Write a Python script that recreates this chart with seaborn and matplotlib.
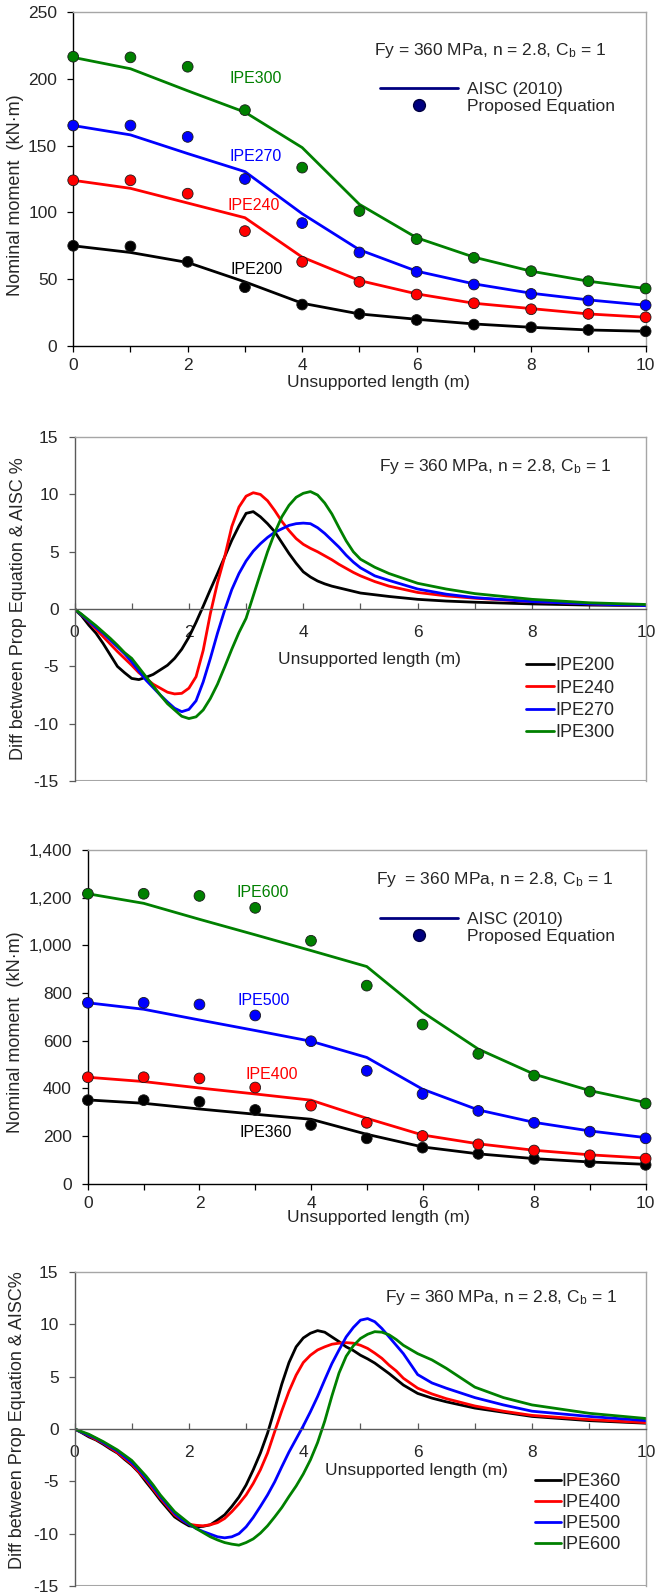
import numpy as np
import pandas as pd
import matplotlib
matplotlib.use("Agg")
import matplotlib.pyplot as plt
from matplotlib.lines import Line2D
from matplotlib.ticker import FuncFormatter, MultipleLocator
import seaborn as sns

# ---------------- data ----------------
L = [0, 1, 2, 3, 4, 5, 6, 7, 8, 9, 10]

# Panel 1 (IPE200-IPE300): AISC lines and proposed points (kN.m)
sec_small = ["IPE200", "IPE240", "IPE270", "IPE300"]
aisc_IPE200 = [75, 70, 62.5, 48, 32, 24, 20, 16.5, 14, 12, 11]
aisc_IPE240 = [124, 118, 107, 96, 66.5, 49, 39, 32, 28, 24, 21.5]
aisc_IPE270 = [165, 158, 144, 130.5, 99, 72, 56, 46.5, 39.5, 34.5, 30.5]
aisc_IPE300 = [216, 207.5, 191, 175, 148.5, 106, 81, 66.5, 56, 48.5, 43]
prop_IPE200 = [75, 74.5, 63, 44, 31, 24, 19.5, 16, 14, 12, 11]
prop_IPE240 = [124, 124, 114, 86, 63, 48, 38.5, 32, 27.5, 24, 21.5]
prop_IPE270 = [165, 165, 156.5, 125, 92, 70, 55.5, 46, 39, 34, 30.5]
prop_IPE300 = [216.5, 216, 209, 176.5, 133.5, 101, 80, 66, 56, 48.5, 43]

# Panel 3 (IPE360-IPE600)
sec_large = ["IPE360", "IPE400", "IPE500", "IPE600"]
aisc_IPE360 = [352, 338, 314, 292, 271, 208, 155, 126, 106, 92, 82]
aisc_IPE400 = [447, 429, 402, 377, 351, 275, 205, 168, 141, 122, 108]
aisc_IPE500 = [759, 732, 687, 643, 598, 530, 397, 310, 258, 222, 194]
aisc_IPE600 = [1216, 1176, 1109, 1044, 978, 911, 720, 565, 460, 391, 341]
prop_IPE360 = [351, 351, 344, 310, 247, 191, 152, 126, 105, 91, 80]
prop_IPE400 = [447, 447, 442, 404, 328, 256, 201, 166, 140, 120, 106]
prop_IPE500 = [759, 759, 752, 706, 598, 474, 377, 306, 256, 219, 191]
prop_IPE600 = [1216, 1216, 1207, 1157, 1019, 831, 668, 545, 454, 387, 337]

# Panel 2: difference (%) vs unsupported length
Ld = [0, 0.125, 0.25, 0.375, 0.5, 0.625, 0.75, 0.875, 1.0, 1.125, 1.25, 1.375,
      1.5, 1.625, 1.75, 1.875, 2.0, 2.125, 2.25, 2.375, 2.5, 2.625, 2.75, 2.875,
      3.0, 3.125, 3.25, 3.375, 3.5, 3.625, 3.75, 3.875, 4.0, 4.125, 4.25, 4.375,
      4.5, 4.625, 4.75, 4.875, 5.0, 5.25, 5.5, 6.0, 6.5, 7.0, 8.0, 9.0, 10.0]
diff_IPE200 = [0, -0.6, -1.4, -2.1, -3.0, -4.0, -5.0, -5.55, -6.05, -6.15, -5.95, -5.7,
               -5.3, -4.9, -4.3, -3.5, -2.45, -1.15, 0.25, 1.7, 3.1, 4.55, 6.0, 7.25,
               8.35, 8.5, 8.05, 7.45, 6.75, 5.8, 4.85, 4.0, 3.25, 2.8, 2.45, 2.2,
               2.0, 1.85, 1.7, 1.55, 1.4, 1.25, 1.1, 0.85, 0.7, 0.6, 0.45, 0.35, 0.3]
diff_IPE240 = [0, -0.5, -1.1, -1.75, -2.4, -3.05, -3.7, -4.3, -4.9, -5.55, -6.05, -6.55,
               -6.9, -7.25, -7.4, -7.35, -6.9, -5.9, -3.6, -0.4, 2.3, 4.55, 7.2, 8.9,
               9.85, 10.15, 10.0, 9.45, 8.6, 7.65, 6.85, 6.15, 5.65, 5.3, 5.0, 4.65,
               4.3, 3.9, 3.55, 3.2, 2.9, 2.4, 2.0, 1.45, 1.15, 0.95, 0.65, 0.45, 0.3]
diff_IPE270 = [0, -0.5, -1.05, -1.6, -2.1, -2.7, -3.3, -3.9, -4.6, -5.4, -6.2, -6.85,
               -7.5, -8.1, -8.65, -8.95, -8.75, -8.0, -6.35, -4.3, -2.1, -0.1, 1.7, 3.1,
               4.2, 5.05, 5.7, 6.25, 6.7, 7.0, 7.3, 7.45, 7.5, 7.45, 7.1, 6.6,
               6.0, 5.4, 4.7, 4.1, 3.6, 2.9, 2.5, 1.75, 1.3, 1.0, 0.65, 0.45, 0.3]
diff_IPE300 = [0, -0.45, -0.95, -1.45, -2.0, -2.55, -3.15, -3.8, -4.3, -5.1, -5.9, -6.7,
               -7.5, -8.25, -8.8, -9.35, -9.55, -9.4, -8.8, -7.8, -6.55, -5.05, -3.5, -2.05,
               -0.8, 1.15, 3.1, 5.0, 6.65, 8.05, 9.05, 9.75, 10.1, 10.25, 9.95, 9.25,
               8.3, 7.1, 5.95, 5.0, 4.35, 3.65, 3.1, 2.25, 1.75, 1.35, 0.85, 0.55, 0.4]

# Panel 4
Ld2 = [0, 0.125, 0.25, 0.375, 0.5, 0.625, 0.75, 0.875, 1.0, 1.125, 1.25, 1.375,
       1.5, 1.625, 1.75, 1.875, 2.0, 2.125, 2.25, 2.375, 2.5, 2.625, 2.75, 2.875,
       3.0, 3.125, 3.25, 3.375, 3.5, 3.625, 3.75, 3.875, 4.0, 4.125, 4.25, 4.375,
       4.5, 4.625, 4.75, 4.875, 5.0, 5.125, 5.25, 5.375, 5.5, 5.625, 5.75, 6.0,
       6.25, 6.5, 7.0, 7.5, 8.0, 9.0, 10.0]
diff_IPE360 = [0, -0.35, -0.75, -1.05, -1.45, -1.9, -2.3, -2.9, -3.45, -4.15, -5.05, -5.9,
               -6.8, -7.6, -8.4, -8.85, -9.25, -9.35, -9.3, -9.15, -8.7, -8.2, -7.4, -6.5,
               -5.35, -3.9, -2.3, -0.4, 1.9, 4.3, 6.35, 7.85, 8.7, 9.15, 9.4, 9.25,
               8.8, 8.35, 7.85, 7.5, 7.05, 6.7, 6.3, 5.8, 5.3, 4.75, 4.2, 3.4,
               2.95, 2.6, 2.0, 1.6, 1.2, 0.8, 0.55]
diff_IPE400 = [0, -0.3, -0.65, -1.0, -1.35, -1.8, -2.25, -2.8, -3.35, -4.1, -4.85, -5.75,
               -6.6, -7.4, -8.2, -8.7, -9.1, -9.2, -9.25, -9.15, -8.95, -8.55, -7.9, -7.15,
               -6.3, -5.2, -3.9, -2.3, -0.25, 1.75, 3.6, 5.15, 6.35, 7.05, 7.55, 7.85,
               8.1, 8.2, 8.25, 8.2, 8.0, 7.7, 7.25, 6.75, 6.1, 5.55, 4.85, 3.9,
               3.35, 2.9, 2.2, 1.7, 1.3, 0.9, 0.6]
diff_IPE500 = [0, -0.3, -0.6, -0.9, -1.3, -1.7, -2.1, -2.65, -3.2, -3.9, -4.7, -5.55,
               -6.45, -7.25, -8.05, -8.65, -9.1, -9.5, -9.8, -10.05, -10.3, -10.4, -10.3, -10.0,
               -9.35, -8.45, -7.4, -6.3, -5.05, -3.6, -2.2, -0.95, 0.3, 1.65, 3.1, 4.7,
               6.25, 7.55, 8.8, 9.7, 10.4, 10.55, 10.25, 9.6, 8.8, 8.0, 7.2, 5.2,
               4.4, 3.9, 3.0, 2.3, 1.7, 1.2, 0.8]
diff_IPE600 = [0, -0.25, -0.5, -0.85, -1.2, -1.6, -2.0, -2.5, -3.0, -3.75, -4.5, -5.35,
               -6.3, -7.1, -7.9, -8.45, -9.0, -9.5, -9.9, -10.3, -10.6, -10.85, -11.0, -11.1,
               -10.85, -10.5, -9.95, -9.25, -8.4, -7.5, -6.45, -5.45, -4.3, -2.95, -1.3, 0.75,
               3.15, 5.35, 6.95, 7.95, 8.65, 9.05, 9.3, 9.25, 9.0, 8.55, 8.0, 7.2,
               6.6, 5.8, 4.0, 3.0, 2.3, 1.5, 1.0]

colors = ["#000000", "#FF0000", "#0000FF", "#008000"]
param_text = "Fy = 360 MPa, n = 2.8, C$_\\mathrm{b}$ = 1"
param_text3 = "Fy  = 360 MPa, n = 2.8, C$_\\mathrm{b}$ = 1"

# ---------------- style ----------------
sns.set_style("ticks")
plt.rcParams["font.family"] = ["Liberation Sans", "DejaVu Sans"]
plt.rcParams["mathtext.fontset"] = "custom"
plt.rcParams["mathtext.rm"] = "Liberation Sans"
plt.rcParams["mathtext.it"] = "Liberation Sans:italic"
plt.rcParams["axes.unicode_minus"] = False

TICK_FS = 12.5
LAB_FS = 13
FRAME = "#A6A6A6"

fig = plt.figure(figsize=(6.56, 15.93), dpi=100)
ax1 = fig.add_axes([0.1116, 0.7828, 0.8726, 0.2097])
ax2 = fig.add_axes([0.1136, 0.5097, 0.8718, 0.2159])
ax3 = fig.add_axes([0.1340, 0.2568, 0.8502, 0.2097])
ax4 = fig.add_axes([0.1136, 0.0044, 0.8718, 0.1971])


def long_df(x, names, arrays):
    rows = []
    for n, arr in zip(names, arrays):
        for xi, yi in zip(x, arr):
            rows.append((xi, yi, n))
    return pd.DataFrame(rows, columns=["L", "v", "sec"])


def moment_panel(ax, names, aisc, prop, ymax, ystep, labels_pos, text_xy, txt,
                 leg_anchor, comma=False):
    pal = dict(zip(names, colors))
    dl = long_df(L, names, aisc)
    dp = long_df(L, names, prop)
    sns.lineplot(data=dl, x="L", y="v", hue="sec", palette=pal, linewidth=2.0,
                 estimator=None, sort=False, legend=False, ax=ax)
    sns.scatterplot(data=dp, x="L", y="v", hue="sec", palette=pal, s=60,
                    edgecolor="#1a1a1a", linewidth=0.6, legend=False, ax=ax,
                    zorder=4, clip_on=False)
    ax.set_xlim(0, 10)
    ax.set_ylim(0, ymax)
    ax.xaxis.set_major_locator(MultipleLocator(2))
    ax.xaxis.set_minor_locator(MultipleLocator(1))
    ax.yaxis.set_major_locator(MultipleLocator(ystep))
    if comma:
        ax.yaxis.set_major_formatter(FuncFormatter(lambda v, p: f"{v:,.0f}"))
    ax.tick_params(axis="x", which="both", direction="out", length=4.5, width=0.9,
                   labelsize=TICK_FS, pad=4, color="black")
    ax.tick_params(axis="y", direction="out", length=4.5, width=0.9,
                   labelsize=TICK_FS, pad=7, color="black")
    for s in ["left", "bottom"]:
        ax.spines[s].set_color("black")
        ax.spines[s].set_linewidth(1.0)
    for s in ["top", "right"]:
        ax.spines[s].set_visible(True)
        ax.spines[s].set_color(FRAME)
        ax.spines[s].set_linewidth(1.0)
    for (n, c, (lx, ly)) in zip(names, colors, labels_pos):
        ax.text(lx, ly, n, color=c, fontsize=11.5, ha="center", va="center")
    ax.text(text_xy[0], text_xy[1], txt, fontsize=TICK_FS, ha="left", va="center")
    handles = [Line2D([], [], color="#000080", lw=2),
               Line2D([], [], ls="none", marker="o", ms=8.5, mfc="#000080",
                      mec="#000040")]
    ax.legend(handles, ["AISC (2010)", "Proposed Equation"], loc="upper left",
              bbox_to_anchor=leg_anchor, frameon=False, borderpad=0, borderaxespad=0,
              handlelength=4.5, handletextpad=0.5, labelspacing=0.1,
              fontsize=TICK_FS)
    ax.set_xlabel("Unsupported length (m)", fontsize=TICK_FS, va="center")
    ax.set_ylabel("Nominal moment  (kN\u00b7m)", fontsize=LAB_FS, va="center")


def diff_panel(ax, x, names, arrays, text_xy, ylab, leg_anchor, hlen, lspace,
               xlab_xy, ylab_xy):
    pal = dict(zip(names, colors))
    dd = long_df(x, names, arrays)
    sns.lineplot(data=dd, x="L", y="v", hue="sec", palette=pal, linewidth=2.0,
                 estimator=None, sort=False, ax=ax)
    ax.set_xlim(0, 10)
    ax.set_ylim(-15, 15)
    ax.xaxis.set_major_locator(MultipleLocator(2))
    ax.xaxis.set_minor_locator(MultipleLocator(1))
    ax.yaxis.set_major_locator(MultipleLocator(5))
    ax.spines["bottom"].set_position(("data", 0))
    ax.spines["bottom"].set_color("#5a5a5a")
    ax.spines["left"].set_color("#5a5a5a")
    for s in ["left", "bottom"]:
        ax.spines[s].set_linewidth(1.0)
    for s in ["top", "right"]:
        ax.spines[s].set_visible(True)
        ax.spines[s].set_color(FRAME)
        ax.spines[s].set_linewidth(1.0)
    ax.axhline(-15, color=FRAME, lw=1.5, zorder=0)
    ax.tick_params(axis="x", which="both", direction="in", length=4.5, width=0.9,
                   labelsize=TICK_FS, pad=11.5, color="#5a5a5a")
    ax.tick_params(axis="y", direction="out", length=4.5, width=0.9,
                   labelsize=TICK_FS, pad=7, color="#5a5a5a")
    ax.text(text_xy[0], text_xy[1], param_text, fontsize=TICK_FS, ha="left",
            va="center")
    ax.legend(loc="upper left", bbox_to_anchor=leg_anchor, frameon=False,
              borderpad=0, borderaxespad=0, handlelength=hlen, handletextpad=0.05,
              labelspacing=lspace, fontsize=LAB_FS, title=None)
    ax.set_xlabel("Unsupported length (m)", fontsize=TICK_FS, va="center")
    ax.xaxis.set_label_coords(*xlab_xy)
    ax.set_ylabel(ylab, fontsize=LAB_FS, va="center")
    ax.yaxis.set_label_coords(*ylab_xy)


moment_panel(ax1, sec_small,
             [aisc_IPE200, aisc_IPE240, aisc_IPE270, aisc_IPE300],
             [prop_IPE200, prop_IPE240, prop_IPE270, prop_IPE300],
             250, 50,
             [(3.2, 57), (3.16, 105), (3.18, 142), (3.18, 200)],
             (5.26, 221), param_text, (0.536, 0.791))
ax1.xaxis.set_label_coords(0.534, -0.108)
ax1.yaxis.set_label_coords(-0.100, 0.452)

diff_panel(ax2, Ld, sec_small, [diff_IPE200, diff_IPE240, diff_IPE270, diff_IPE300],
           (5.32, 12.4), "Diff between Prop Equation & AISC %", (0.790, 0.360),
           1.55, 0.30, (0.516, 0.352), (-0.0974, 0.5))

moment_panel(ax3, sec_large,
             [aisc_IPE360, aisc_IPE400, aisc_IPE500, aisc_IPE600],
             [prop_IPE360, prop_IPE400, prop_IPE500, prop_IPE600],
             1400, 200,
             [(3.19, 215), (3.29, 458), (3.16, 768), (3.14, 1221)],
             (5.17, 1274), param_text3, (0.524, 0.815), comma=True)
ax3.xaxis.set_label_coords(0.521, -0.102)
ax3.yaxis.set_label_coords(-0.129, 0.455)

diff_panel(ax4, Ld2, sec_large, [diff_IPE360, diff_IPE400, diff_IPE500, diff_IPE600],
           (5.43, 12.6), "Diff between Prop Equation & AISC%", (0.806, 0.359),
           1.4, 0.22, (0.598, 0.369), (-0.0995, 0.529))

fig.savefig("out.png", dpi=100)
